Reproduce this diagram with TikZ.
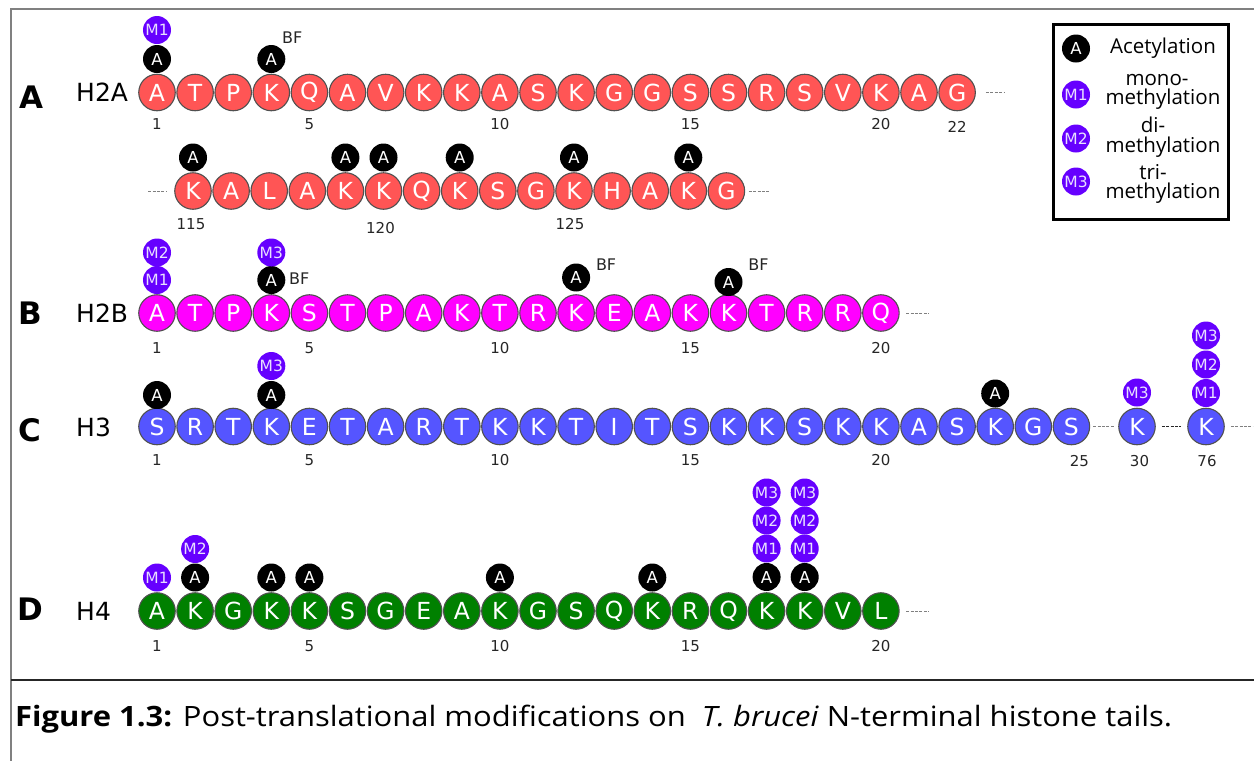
\documentclass[tikz,border=0pt]{standalone}
\usepackage{fontspec}
\usepackage{graphicx}
\setmainfont{DejaVu Sans}
\newfontfamily\legendfont{Open Sans}
\newfontfamily\captionfont{Open Sans}
\definecolor{h2ared}{HTML}{FF5555}
\definecolor{h2bmag}{HTML}{FF00FF}
\definecolor{h3blue}{HTML}{5555FF}
\definecolor{h4green}{HTML}{008000}
\definecolor{methpurple}{HTML}{6600FF}
\definecolor{methtext}{HTML}{E8E0FF}
\definecolor{rimgray}{HTML}{505050}
\definecolor{framegray}{HTML}{808080}

\begin{document}
\begin{tikzpicture}[x=1pt,y=-1pt,
  residue/.style={circle,draw=rimgray,line width=1.1pt,minimum size=36.5pt,inner sep=0pt,text=white,font=\fontsize{23.5}{23.5}\selectfont},
  acet/.style={circle,fill=black,minimum size=28pt,inner sep=0pt,text=white,font=\fontsize{16.5}{16.5}\selectfont},
  meth/.style={circle,fill=methpurple,minimum size=28pt,inner sep=0pt,text=methtext,font=\fontsize{15.5}{15.5}\selectfont},
  resnum/.style={inner sep=0pt,text=black!85,font=\fontsize{15}{15}\selectfont},
  bflabel/.style={inner sep=0pt,text=black!85,font=\fontsize{16}{16}\selectfont},
  panel/.style={inner sep=0pt,font=\fontsize{31}{31}\selectfont\bfseries},
  histone/.style={inner sep=0pt,anchor=west,font=\fontsize{25}{25}\selectfont},
  gapline/.style={draw=black!50,line width=0.8pt,dash pattern=on 3pt off 1.4pt},
  legendtext/.style={inner sep=0pt,align=center,font=\legendfont\fontsize{20.5}{19.5}\selectfont},
]
\useasboundingbox (0,0) rectangle (1254,761);

% frame and caption rule
\draw[framegray,line width=2pt] (1254,9) -- (11,9) -- (11,761);
\draw[black!85,line width=1.3pt] (11,680) -- (1254,680);

% ---------------- A: H2A ----------------
\node[panel] (pA) at (31,97.5) {A};
\node[histone] (hA) at (76,92.5) {H2A};
\foreach \r [count=\i] in {A,T,P,K,Q,A,V,K,K,A,S,K,G,G,S,S,R,S,V,K,A,G}
  \node[residue,fill=h2ared] (a\i) at ({157+(\i-1)*38.1},92.5) {\r};
\foreach \r [count=\i from 115] in {K,A,L,A,K,K,Q,K,S,G,K,H,A,K,G}
  \node[residue,fill=h2ared] (a\i) at ({193+(\i-115)*38.1},191) {\r};

\node[acet] (acA1) at ([yshift=33.5pt]a1) {A};
\node[meth] (meA1) at ([yshift=62.5pt]a1) {M1};
\node[acet] (acA4) at ([yshift=33.5pt]a4) {A};
\node[bflabel] (bfA4) at ([xshift=21pt,yshift=55pt]a4) {BF};
\foreach \k in {115,119,120,122,125,128}
  \node[acet] (acA\k) at ([yshift=33.5pt]a\k) {A};

\foreach \k in {1,5,10,15,20}
  \node[resnum] (nA\k) at ([yshift=-32pt]a\k) {\k};
\node[resnum] (nA22) at ([yshift=-34.5pt]a22) {22};
\node[resnum] (nA115) at ([xshift=-2pt,yshift=-33.5pt]a115) {115};
\node[resnum] (nA120) at ([xshift=-3pt,yshift=-37.5pt]a120) {120};
\node[resnum] (nA125) at ([xshift=-4pt,yshift=-33pt]a125) {125};

\coordinate (aTail) at ([xshift=29pt]a22.east);
\draw[gapline,shorten <=10pt] (a22) -- (aTail);
\coordinate (a2Head) at ([xshift=-26pt]a115.west);
\draw[gapline,shorten >=7pt] (a2Head) -- (a115);
\coordinate (a2Tail) at ([xshift=23.5pt]a129.east);
\draw[gapline,shorten <=3.5pt] (a129) -- (a2Tail);

% ---------------- B: H2B ----------------
\node[panel] (pB) at (30,313) {B};
\node[histone] (hB) at (76,313) {H2B};
\foreach \r [count=\i] in {A,T,P,K,S,T,P,A,K,T,R,K,E,A,K,K,T,R,R,Q}
  \node[residue,fill=h2bmag] (b\i) at ({157+(\i-1)*38.1},313) {\r};

\node[meth] (meB1a) at ([yshift=33pt]b1) {M1};
\node[meth] (meB1b) at ([yshift=60.5pt]b1) {M2};
\node[acet] (acB4) at ([yshift=33pt]b4) {A};
\node[meth] (meB4) at ([yshift=60.5pt]b4) {M3};
\node[bflabel] (bfB4) at ([xshift=28pt,yshift=1.5pt]acB4) {BF};
\node[acet] (acB12) at ([yshift=35.5pt]b12) {A};
\node[bflabel] (bfB12) at ([xshift=30pt,yshift=12.5pt]acB12) {BF};
\node[acet] (acB16) at ([yshift=31pt]b16) {A};
\node[bflabel] (bfB16) at ([xshift=30pt,yshift=17pt]acB16) {BF};

\foreach \k in {1,5,10,15,20}
  \node[resnum] (nB\k) at ([yshift=-35pt]b\k) {\k};
\coordinate (bTail) at ([xshift=29pt]b20.east);
\draw[gapline,shorten <=6.5pt] (b20) -- (bTail);

% ---------------- C: H3 ----------------
\node[panel] (pC) at (30,430) {C};
\node[histone] (hC) at (76,427) {H3};
\foreach \r [count=\i] in {S,R,T,K,E,T,A,R,T,K,K,T,I,T,S,K,K,S,K,K,A,S,K,G,S}
  \node[residue,fill=h3blue] (c\i) at ({157+(\i-1)*38.1},426.5) {\r};
\node[residue,fill=h3blue] (c30) at (1137,426.5) {K};
\node[residue,fill=h3blue] (c76) at (1206,426.5) {K};

\node[acet] (acC1) at ([yshift=31.5pt]c1) {A};
\node[acet] (acC4) at ([yshift=31.5pt]c4) {A};
\node[meth] (meC4) at ([yshift=60.5pt]c4) {M3};
\node[acet] (acC23) at ([yshift=33pt]c23) {A};
\node[meth] (meC30) at ([yshift=34pt]c30) {M3};
\node[meth] (meC76a) at ([yshift=33.5pt]c76) {M1};
\node[meth] (meC76b) at ([yshift=62pt]c76) {M2};
\node[meth] (meC76c) at ([yshift=91pt]c76) {M3};

\foreach \k in {1,5,10,15,20}
  \node[resnum] (nC\k) at ([yshift=-33.5pt]c\k) {\k};
\node[resnum] (nC25) at ([xshift=8pt,yshift=-35pt]c25) {25};
\node[resnum] (nC30) at ([xshift=2.5pt,yshift=-35pt]c30) {30};
\node[resnum] (nC76) at ([xshift=1pt,yshift=-35pt]c76) {76};

\draw[gapline,shorten <=3pt,shorten >=4.5pt] (c25) -- (c30);
\draw[gapline,draw=black!85,shorten <=6pt,shorten >=6pt] (c30) -- (c76);
\coordinate (cTail) at ([xshift=28pt]c76.east);
\draw[gapline,shorten <=6pt] (c76) -- (cTail);

% ---------------- D: H4 ----------------
\node[panel] (pD) at (30.5,609) {D};
\node[histone] (hD) at (76,611) {H4};
\foreach \r [count=\i] in {A,K,G,K,K,S,G,E,A,K,G,S,Q,K,R,Q,K,K,V,L}
  \node[residue,fill=h4green] (d\i) at ({157+(\i-1)*38.1},611) {\r};

\node[meth] (meD1) at ([yshift=33.5pt]d1) {M1};
\node[acet] (acD2) at ([yshift=33.5pt]d2) {A};
\node[meth] (meD2) at ([yshift=62pt]d2) {M2};
\foreach \k in {4,5,10,14}
  \node[acet] (acD\k) at ([yshift=33.5pt]d\k) {A};
\foreach \k in {17,18}{
  \node[acet] (acD\k) at ([yshift=34pt]d\k) {A};
  \node[meth] (meD\k a) at ([yshift=62.5pt]d\k) {M1};
  \node[meth] (meD\k b) at ([yshift=90.5pt]d\k) {M2};
  \node[meth] (meD\k c) at ([yshift=118.5pt]d\k) {M3};
}

\foreach \k in {1,5,10,15,20}
  \node[resnum] (nD\k) at ([yshift=-35pt]d\k) {\k};
\coordinate (dTail) at ([xshift=29pt]d20.east);
\draw[gapline,shorten <=6.5pt] (d20) -- (dTail);

% ---------------- legend ----------------
\draw[line width=3pt] (1053.5,24.5) rectangle (1228.5,219.5);
\node[acet] (legA) at (1076,48.5) {A};
\node[meth] (legM1) at (1076,94.5) {M1};
\node[meth] (legM2) at (1076,138.5) {M2};
\node[meth] (legM3) at (1076,181.5) {M3};
\node[legendtext] (legAt) at (1163,48) {Acetylation};
\node[legendtext] (legM1t) at (1163,92) {mono-\hspace*{12pt}\\methylation};
\node[legendtext] (legM2t) at (1163,137) {di-\hspace*{20pt}\\methylation};
\node[legendtext] (legM3t) at (1163,184) {tri-\hspace*{20pt}\\methylation};

% ---------------- caption ----------------
\node[anchor=base west,inner sep=0pt] (caption) at (15,726)
  {\resizebox{1157pt}{\height}{\captionfont\fontsize{28}{28}\selectfont\textbf{Figure 1.3:} Post-translational modifications on \ \textit{T. brucei} N-terminal histone tails.}};
\end{tikzpicture}
\end{document}
